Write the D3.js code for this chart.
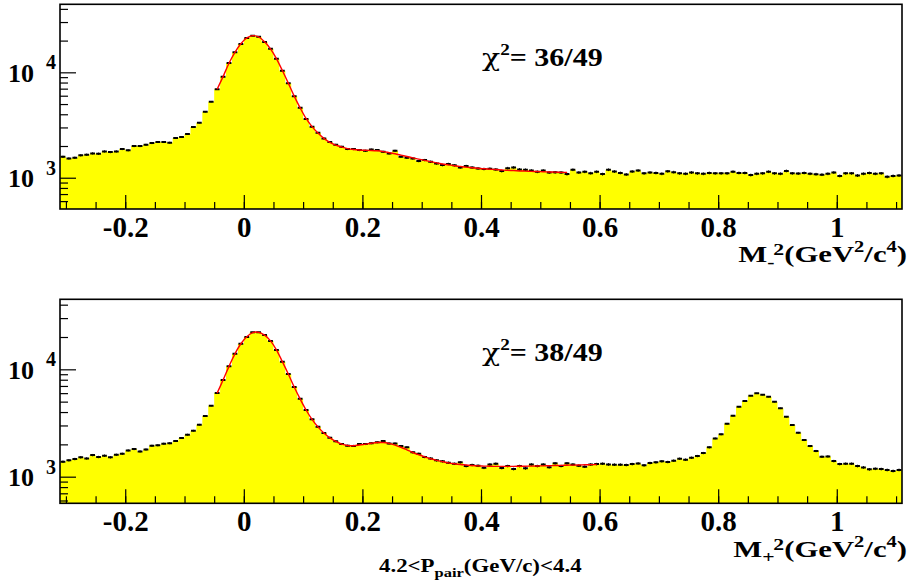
<!DOCTYPE html>
<html>
<head>
<meta charset="utf-8">
<script src="https://cdn.jsdelivr.net/npm/d3@7"></script>
<style>
  body { margin: 0; background: #fff; }
  svg { display: block; }
  text { font-family: "Liberation Serif", "Times New Roman", serif; font-weight: bold; fill: #000; }
</style>
</head>
<body>
<div id="chart"></div>
<script>
// histogram binning: 142 bins of 0.01 starting at -0.31
var binLow = -0.31;
var binWidth = 0.01;

// counts, M_-^2 (upper pad)
var topCounts = [
  1578,1524,1546,1630,1655,1702,1690,1776,1750,1776,
  1870,1820,1995,1995,2053,2130,2180,2180,2150,2377,
  2430,2596,3026,3322,4226,5262,6894,9080,12250,15480,
  18580,21180,22290,21780,19400,16750,13460,10360,7870,5920,
  4610,3600,3040,2670,2360,2180,2053,1965,1870,1870,
  1830,1800,1850,1830,1762,1700,1800,1578,1546,1524,
  1440,1470,1417,1368,1319,1350,1310,1253,1290,1253,
  1225,1210,1218,1200,1156,1233,1253,1200,1190,1170,
  1138,1170,1120,1125,1120,1082,1190,1120,1138,1105,
  1138,1082,1190,1145,1110,1075,1145,1170,
  1100,1120,1110,1090,1150,1130,1100,1090,1120,1100,
  1090,1110,1100,1100,1100,1140,1110,1110,1060,1090,
  1100,1140,1100,1090,1160,1100,1095,1110,1090,1080,
  1070,1090,1120,1040,1100,1100,1050,1090,1110,1090,
  1100,1020,1040,1050
];

// counts for M_+^2 (lower pad)
var bottomCounts = [
  1377,1420,1460,1514,1480,1588,1525,1570,1514,1600,
  1634,1757,1808,1720,1790,1941,1960,2029,2050,2150,
  2293,2462,2681,3049,3674,4581,6010,7944,10660,13960,
  17330,20000,22140,22140,20900,18360,15140,11780,9040,6840,
  5320,4180,3420,2920,2547,2306,2140,2014,1945,1935,
  2014,2014,2050,2090,2150,2040,2040,1930,1880,1686,
  1634,1524,1480,1420,1390,1349,1320,1360,1256,1285,
  1265,1211,1300,1320,1205,1256,1178,1256,1195,1300,
  1256,1300,1225,1332,1256,1332,1300,1265,1240,1300,
  1310,1320,1300,1295,1295,1285,1310,1330,1275,1340,
  1360,1390,1370,1410,1470,1440,1500,1556,1660,1875,
  2274,2478,3112,3700,4480,5070,5680,5975,5790,5560,
  4990,4330,3616,3027,2565,2194,1928,1733,1533,1545,
  1397,1310,1320,1320,1256,1220,1170,1185,1178,1155,
  1130,1155
];

// fit curves (red), sampled at bin centres starting at bin 26
var fitStartBin = 26;
var topFit = [
  6900,9100,12200,15500,18700,21200,22300,21700,19500,16700,
  13500,10400,7900,5950,4600,3650,3050,2650,2360,2170,
  2040,1960,1890,1850,1830,1820,1815,1800,1770,1730,
  1690,1640,1590,1545,1500,1460,1420,1385,1350,1325,
  1300,1280,1260,1245,1230,1215,1205,1195,1185,1175,
  1170,1160,1155,1150,1145,1140,1135,1130,1125,1120
];
var bottomFit = [
  6000,7950,10650,13950,17300,20100,22000,22100,20800,18400,
  15200,11800,9050,6850,5300,4180,3420,2910,2550,2300,
  2130,2010,1950,1940,1970,2010,2050,2080,2080,2040,
  1970,1880,1780,1680,1600,1530,1470,1420,1380,1345,
  1320,1300,1285,1270,1260,1255,1250,1248,1247,1247,
  1248,1250,1252,1255,1258,1262,1266,1270,1274,1278,
  1282,1286,1290,1294,1298
];

var xTickMajor = [-0.2, 0, 0.2, 0.4, 0.6, 0.8, 1.0];
var xTickLabels = ["-0.2", "0", "0.2", "0.4", "0.6", "0.8", "1"];
var yMajor = [1000, 10000];
var yMajorExp = ["3", "4"];

var width = 914, height = 587;
var svg = d3.select("#chart").append("svg")
    .attr("width", width)
    .attr("height", height);

var x = d3.scaleLinear().domain([binLow, binLow + binWidth * topCounts.length]).range([60, 902]);

// draw one pad
function drawPad(counts, fit, top, bottom, yDomain) {
  var y = d3.scaleLog().domain(yDomain).range([bottom, top]);
  var g = svg.append("g");

  g.append("defs").append("clipPath").attr("id", "clip" + top)
    .append("rect").attr("x", 60).attr("y", top).attr("width", 842).attr("height", bottom - top);

  var pts = [];
  counts.forEach(function(c, i) {
    pts.push([binLow + binWidth * i, c]);
    pts.push([binLow + binWidth * (i + 1), c]);
  });

  // yellow histogram
  g.append("path")
    .datum(pts)
    .attr("clip-path", "url(#clip" + top + ")")
    .attr("fill", "#ffff00")
    .attr("d", d3.area()
      .x(function(d) { return x(d[0]); })
      .y0(bottom)
      .y1(function(d) { return y(d[1]); }));

  // error bars / markers
  var mk = g.append("g").attr("clip-path", "url(#clip" + top + ")");
  counts.forEach(function(c, i) {
    var cx = x(binLow + binWidth * (i + 0.5));
    var e = Math.sqrt(c);
    mk.append("line")
      .attr("x1", cx).attr("x2", cx)
      .attr("y1", y(c + e)).attr("y2", y(c - e))
      .attr("stroke", "#000").attr("stroke-width", 1);
    mk.append("line")
      .attr("x1", cx - 2.4).attr("x2", cx + 2.4)
      .attr("y1", y(c)).attr("y2", y(c))
      .attr("stroke", "#000").attr("stroke-width", 2);
  });

  // red fit
  g.append("path")
    .datum(fit)
    .attr("fill", "none")
    .attr("stroke", "#ff0000")
    .attr("stroke-width", 1.4)
    .attr("d", d3.line()
      .curve(d3.curveCatmullRom)
      .x(function(d, i) { return x(binLow + binWidth * (fitStartBin + i + 0.5)); })
      .y(function(d) { return y(d); }));

  // x axis, ticks pointing inwards
  g.append("g")
    .attr("transform", "translate(0," + bottom + ")")
    .call(d3.axisBottom(x).tickValues(d3.range(-0.3, 1.101, 0.05)).tickSizeInner(-7).tickSizeOuter(0).tickFormat(""))
    .call(function(a) { a.select(".domain").remove(); a.selectAll("line").attr("stroke-width", 1.2); });
  g.append("g")
    .attr("transform", "translate(0," + bottom + ")")
    .call(d3.axisBottom(x).tickValues(xTickMajor).tickSizeInner(-14).tickSizeOuter(0).tickPadding(7)
      .tickFormat(function(d, i) { return xTickLabels[i]; }))
    .call(function(a) {
      a.select(".domain").remove();
      a.selectAll("line").attr("stroke-width", 1.2);
      a.selectAll("text").attr("font-size", 29).attr("font-family", null);
    });

  // y axis, ticks pointing inwards
  var yMinor = [];
  [100, 1000, 10000].forEach(function(dec) {
    for (var k = 2; k <= 9; k++) {
      var v = dec * k;
      if (v > yDomain[0] && v < yDomain[1]) yMinor.push(v);
    }
  });
  g.append("g")
    .attr("transform", "translate(60,0)")
    .call(d3.axisRight(y).tickValues(yMinor).tickSizeInner(8).tickSizeOuter(0).tickFormat(""))
    .call(function(a) { a.select(".domain").remove(); a.selectAll("line").attr("stroke-width", 1.2); });
  g.append("g")
    .attr("transform", "translate(60,0)")
    .call(d3.axisRight(y).tickValues(yMajor).tickSizeInner(16).tickSizeOuter(0).tickFormat(""))
    .call(function(a) { a.select(".domain").remove(); a.selectAll("line").attr("stroke-width", 1.2); });

  yMajor.forEach(function(v, i) {
    var yy = y(v);
    g.append("text").attr("x", 8).attr("y", yy + 9.5).attr("font-size", 26).text("10");
    g.append("text").attr("x", 46).attr("y", yy - 3).attr("font-size", 20).text(yMajorExp[i]);
  });

  // frame
  g.append("rect")
    .attr("x", 60).attr("y", top)
    .attr("width", 842).attr("height", bottom - top)
    .attr("fill", "none").attr("stroke", "#000").attr("stroke-width", 1.6);
  return g;
}

drawPad(topCounts, topFit, 4.3, 209, [505, 44200]);
drawPad(bottomCounts, bottomFit, 299.3, 503.3, [565, 44900]);

// chi2 labels
function chiLabel(xx, yy, txt) {
  var t = svg.append("text")
    .attr("transform", "translate(" + xx + "," + yy + ") scale(1.2,1)")
    .attr("font-size", 25);
  t.append("tspan").attr("font-weight", "normal").attr("font-family", "DejaVu Serif").text("\u03c7");
  t.append("tspan").attr("font-size", 16).attr("dy", -11).text("2");
  t.append("tspan").attr("dy", 11).text("= " + txt);
}
chiLabel(482, 66, "36/49");
chiLabel(482, 361, "38/49");

// axis titles (stretched horizontally like the original)
function axisTitle(yy, sub) {
  var t = svg.append("text")
    .attr("text-anchor", "end")
    .attr("transform", "translate(907," + yy + ") scale(1.28,1)")
    .attr("font-size", 24);
  t.append("tspan").text("M");
  t.append("tspan").attr("font-size", 17).attr("dy", 6).text(sub);
  t.append("tspan").attr("font-size", 17).attr("dy", -13).attr("dx", -1).text("2");
  t.append("tspan").attr("dy", 7).text("(GeV");
  t.append("tspan").attr("font-size", 16).attr("dy", -10).text("2");
  t.append("tspan").attr("dy", 10).text("/c");
  t.append("tspan").attr("font-size", 16).attr("dy", -10).text("4");
  t.append("tspan").attr("dy", 10).text(")");
}
axisTitle(262, "-");
axisTitle(557, "+");

// momentum range
var pr = svg.append("text")
  .attr("transform", "translate(379,572) scale(1.27,1)")
  .attr("font-size", 18);
pr.append("tspan").text("4.2<P");
pr.append("tspan").attr("font-size", 13).attr("dy", 5).text("pair");
pr.append("tspan").attr("dy", -5).text("(GeV/c)<4.4");
</script>
</body>
</html>
